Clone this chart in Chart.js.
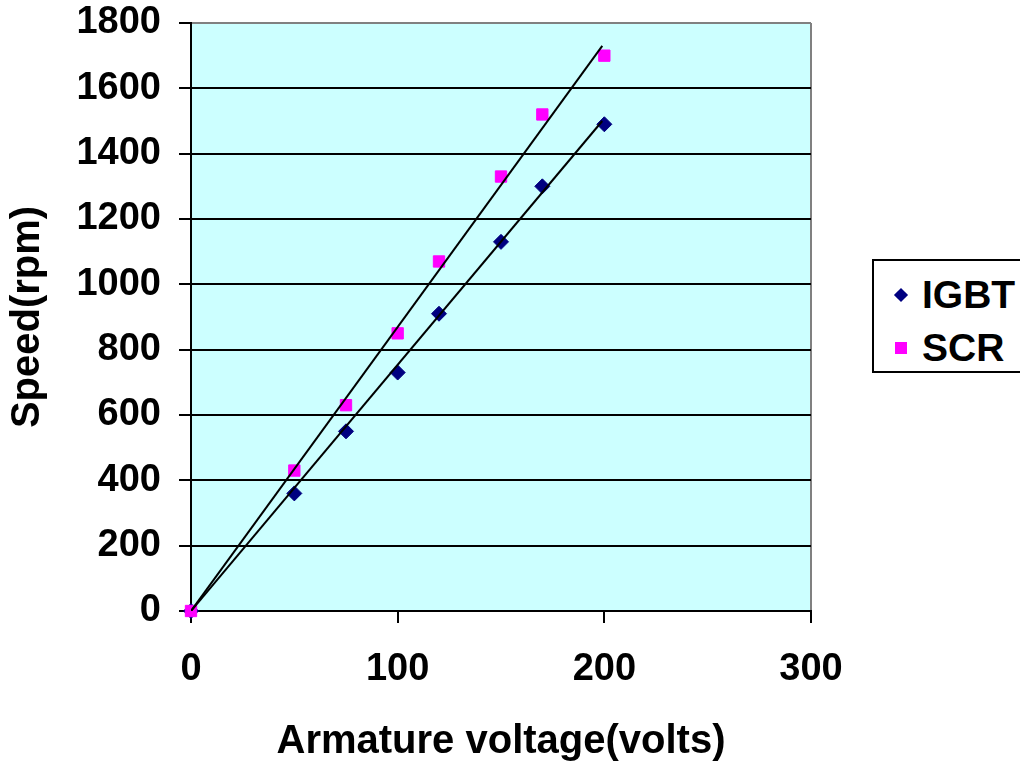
<!DOCTYPE html>
<html>
<head>
<meta charset="utf-8">
<title>Speed vs armature voltage</title>
<script src="https://cdn.jsdelivr.net/npm/chart.js@4.4.0/dist/chart.umd.min.js"></script>
<style>
  html, body { margin: 0; padding: 0; background: #fff; overflow: hidden; }
  #wrap { position: relative; width: 1020px; height: 767px; }
  #legend {
    position: absolute; left: 872px; top: 259px; width: 170px; height: 114px;
    border: 2px solid #000; background: #fff; box-sizing: border-box;
    font: bold 39px "Liberation Sans", Arial, sans-serif; color: #000;
  }
  .item { position: absolute; left: 48px; line-height: 40px; }
  .mk { position: absolute; }
  .diamond { background: #000080; transform: rotate(45deg); width: 10px; height: 10px; left: -26px; top: 15px; }
  .square { background: #ff00ff; width: 12px; height: 12px; left: -27px; top: 14px; }
</style>
</head>
<body>
<div id="wrap">
  <canvas id="chart" width="1020" height="767"></canvas>
  <div id="legend">
    <div class="item" style="top:14px"><span class="mk diamond"></span>IGBT</div>
    <div class="item" style="top:67px"><span class="mk square"></span>SCR</div>
  </div>
</div>
<script>
// ── dados ──
const voltage = [0, 50, 75, 100, 120, 150, 170, 200];
const igbtSpeed = [0, 360, 550, 730, 910, 1130, 1300, 1490];
const scrSpeed = [0, 430, 630, 850, 1070, 1330, 1520, 1700];

// linhas de tendência (pontos extremos)
const trendVolt = [0, 199];
const igbtTrend = [0, 1500];
const scrTrend = [0, 1730];

const xTicks = [0, 100, 200, 300];
const yTicks = [0, 200, 400, 600, 800, 1000, 1200, 1400, 1600, 1800];

const FONT = '"Liberation Sans", Arial, sans-serif';
const pts = (xs, ys) => xs.map((x, i) => ({ x, y: ys[i] }));

// fundo da área de plotagem
const plotBg = {
  id: 'plotBg',
  beforeDraw(chart) {
    const a = chart.chartArea;
    const ctx = chart.ctx;
    ctx.save();
    ctx.fillStyle = '#ccffff';
    ctx.fillRect(a.left, a.top, a.right - a.left, a.bottom - a.top);
    ctx.restore();
  }
};

new Chart(document.getElementById('chart'), {
  type: 'scatter',
  data: {
    datasets: [
      { label: 'IGBT trend', type: 'line', data: pts(trendVolt, igbtTrend), borderColor: '#000', borderWidth: 2, pointRadius: 0, fill: false, order: 0 },
      { label: 'SCR trend', type: 'line', data: pts(trendVolt, scrTrend), borderColor: '#000', borderWidth: 2, pointRadius: 0, fill: false, order: 0 },
      { label: 'SCR', data: pts(voltage, scrSpeed), pointStyle: 'rect', pointRadius: 8, backgroundColor: '#ff00ff', borderColor: '#ff00ff', borderWidth: 1, clip: false, order: 1 },
      { label: 'IGBT', data: pts(voltage, igbtSpeed), pointStyle: 'rectRot', pointRadius: 7.5, backgroundColor: '#000080', borderColor: '#000080', borderWidth: 1, clip: false, order: 2 }
    ]
  },
  options: {
    responsive: false,
    animation: false,
    layout: { padding: { left: 0, top: 23, right: 209, bottom: 0 } },
    plugins: { legend: { display: false }, tooltip: { enabled: false } },
    scales: {
      x: {
        type: 'linear', min: 0, max: 300,
        afterBuildTicks: s => { s.ticks = xTicks.map(v => ({ value: v })); },
        afterFit: s => { s.height = 156; s.paddingLeft = 0; s.paddingRight = 0; },
        border: { color: '#000', width: 2 },
        grid: {
          drawOnChartArea: true, drawTicks: true, tickLength: 12, tickWidth: 2, tickColor: '#000',
          lineWidth: 2,
          color: c => (c.tick && c.tick.value === 300 ? '#808080' : 'rgba(0,0,0,0)')
        },
        ticks: { color: '#000', padding: 24, font: { family: FONT, size: 38, weight: 'bold' }, maxRotation: 0, callback: v => String(v) },
        title: { display: true, text: 'Armature voltage(volts)', color: '#000', font: { family: FONT, size: 40, weight: 'bold' }, padding: { top: 4, bottom: 1 } }
      },
      y: {
        type: 'linear', min: 0, max: 1800,
        afterBuildTicks: s => { s.ticks = yTicks.map(v => ({ value: v })); },
        afterFit: s => { s.width = 191; s.paddingTop = 0; s.paddingBottom = 0; },
        border: { color: '#000', width: 2 },
        grid: {
          drawTicks: true, tickLength: 12, tickWidth: 2, tickColor: '#000',
          lineWidth: 2,
          color: c => (c.tick && c.tick.value === 1800 ? '#808080' : '#000')
        },
        ticks: { color: '#000', padding: 18, font: { family: FONT, size: 38, weight: 'bold' }, callback: v => String(v) },
        title: { display: true, text: 'Speed(rpm)', color: '#000', font: { family: FONT, size: 40, weight: 'bold' }, padding: { top: 4, bottom: 4 } }
      }
    }
  },
  plugins: [plotBg]
});
</script>
</body>
</html>
